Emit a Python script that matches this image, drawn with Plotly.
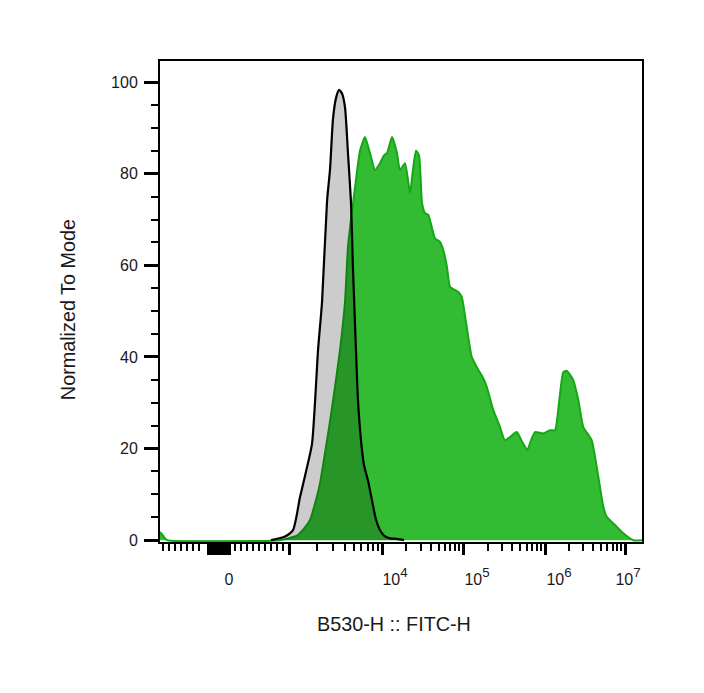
import numpy as np
import plotly.graph_objects as go

# ---------------- data (fluorescence intensity, % of mode) ----------------
control_x = [700, 933, 1104, 1313, 1524, 1767, 2052, 2265, 2564, 2762, 2973, 3200,
             3451, 3715, 4000, 4305, 4641, 4877, 5250, 5516, 5943, 6400, 7068, 7800,
             8610, 9500, 10590, 12550, 15300, 18700]
control_y = [0, 0.8, 2.2, 9.4, 15.0, 21.0, 41.5, 52.0, 74.0, 81.0, 92.0, 96.5,
             98.3, 97.5, 94.5, 84.5, 73.6, 59.0, 41.5, 30.6, 21.8, 16.4, 13.0, 8.7,
             4.5, 2.2, 1.0, 0.4, 0.3, 0]

sample_x = [-1150, -1100, -1033, 850, 1025, 1219, 1449, 1683, 1905, 2153, 2437, 2762,
            3126, 3533, 4000, 4305, 4641, 5126, 5797, 6562, 7430, 8414, 9507, 10580,
            11530, 13290, 15300, 16680, 19230, 22170, 24150, 26300, 28650, 31190, 33970,
            37300, 45110, 51990, 57140, 63430, 69160, 87500, 96400, 110900, 127600,
            146900, 177000, 194600, 234400, 282500, 325100, 451600, 524800, 608700,
            674500, 755100, 953600, 1155000, 1334000, 1496000, 1693000, 1868000,
            2259000, 2609000, 3011000, 3836000, 4429000, 5357000, 5907000, 7499000,
            9520000, 12700000, 16300000]
sample_y = [1.8, 1.0, 0, 0, 0.5, 1.0, 2.5, 4.4, 8.0, 12.4, 19.0, 26.0,
            33.5, 41.5, 52.0, 64.0, 70.0, 77.0, 85.0, 88.0, 84.5, 80.8, 82.3, 84.0,
            84.5, 88.0, 84.5, 80.8, 82.3, 75.8, 81.0, 85.0, 84.0, 73.6, 71.4,
            71.0, 65.9, 65.1, 63.3, 59.6, 55.3, 54.2, 53.1, 46.6, 40.0,
            37.8, 35.3, 33.5, 28.4, 24.7, 21.8, 23.6, 21.5, 19.7,
            21.8, 23.6, 23.3, 24.0, 24.0, 30.0, 36.7, 37.0,
            34.9, 30.6, 24.7, 21.8, 16.0, 7.3, 5.1, 3.3,
            1.5, 0.0, 0]

y_ticks = [0, 20, 40, 60, 80, 100]
x_label_vals = [0, 1e4, 1e5, 1e6, 1e7]
x_label_exp = [None, "4", "5", "6", "7"]
x_decades = [3, 4, 5, 6, 7]

# ---------------- biexponential-like display scale ----------------
SCALE_ZERO = 229.0
SCALE_LIN = 0.06
SCALE_DEC_POS = [289.0, 382.0, 463.0, 545.0, 625.0]


def scale(v):
    v = np.asarray(v, dtype=float)
    out = SCALE_ZERO + SCALE_LIN * v
    big = v > 1000
    lg = np.log10(np.where(big, v, 1000.0))
    logpos = np.interp(lg, x_decades, SCALE_DEC_POS)
    logpos = np.where(lg > 7, SCALE_DEC_POS[-1] + (lg - 7) * 80.0, logpos)
    return np.where(big, logpos, out)


# label text; decade labels sit slightly right of their tick (last one kept inside)
label_nudge = [0, 13, 14, 14, 3]
label_pos = [float(scale(v)) + n for v, n in zip(x_label_vals, label_nudge)]
label_text = ["0" if e is None else
              "10<span style='font-size:19px'><sup>%s</sup></span>" % e for e in x_label_exp]

# long ticks: dense cluster around zero + decades
long_ticks = list(np.arange(-350, 17, 16.0)) + [10.0 ** d for d in x_decades]

minor_vals = [100 * k for k in range(1, 10)] + [-100 * k for k in range(5, 12)]
for d in range(3, 7):
    for k in range(2, 10):
        minor_vals.append(k * 10.0 ** d)

x_lo, x_hi = -1150, 1.63e7
xr = [float(scale(x_lo)), float(scale(x_hi))]

fig = go.Figure()
fig.add_trace(go.Scatter(
    x=scale(sample_x), y=sample_y, mode="lines", fill="tozeroy",
    fillcolor="#33bb33", line=dict(color="#14a814", width=2, shape="spline", smoothing=0.5),
    hoverinfo="skip", showlegend=False))
fig.add_trace(go.Scatter(
    x=scale(control_x), y=control_y, mode="lines", fill="tozeroy",
    fillcolor="rgba(0,0,0,0.2)", line=dict(color="#000000", width=2.2, shape="spline", smoothing=0.6),
    hoverinfo="skip", showlegend=False))
# carrier for the secondary tick axis (no visible marks)
fig.add_trace(go.Scatter(x=xr, y=[None, None], xaxis="x2", mode="lines",
                         hoverinfo="skip", showlegend=False))

font_family = "Liberation Sans, Arial, sans-serif"
tick_font = dict(size=16, family=font_family, color="#1a1a1a")
title_font = dict(size=19.8, family=font_family, color="#1a1a1a")

fig.update_layout(
    width=704, height=693,
    margin=dict(l=152, r=70, t=53, b=159),
    paper_bgcolor="white", plot_bgcolor="white",
    font=dict(family=font_family, color="#1a1a1a"),
    xaxis=dict(
        range=xr,
        showgrid=False, zeroline=False,
        showline=True, linecolor="black", linewidth=2, mirror=True,
        tickmode="array", tickvals=label_pos, ticktext=label_text,
        ticks="outside", ticklen=12, tickwidth=0.01, tickcolor="rgba(0,0,0,0)",
        tickfont=tick_font,
        ticklabelstandoff=10,
        minor=dict(tickmode="array", tickvals=list(scale(minor_vals)), ticks="outside",
                   ticklen=7, tickwidth=2, tickcolor="black", showgrid=False),
    ),
    xaxis2=dict(
        range=xr, overlaying="x", side="bottom", anchor="y",
        showgrid=False, zeroline=False, showline=False,
        tickmode="array", tickvals=list(scale(long_ticks)),
        ticks="outside", ticklen=12, tickwidth=2.5, tickcolor="black",
        showticklabels=False,
    ),
    yaxis=dict(
        range=[-0.4, 104.6],
        showgrid=False, zeroline=False,
        showline=True, linecolor="black", linewidth=2, mirror=True,
        tickmode="array", tickvals=y_ticks, ticktext=[str(t) for t in y_ticks],
        ticks="outside", ticklen=14, tickwidth=2.5, tickcolor="black",
        tickfont=tick_font,
        ticklabelstandoff=3,
        minor=dict(dtick=5, tick0=0, ticks="outside", ticklen=7, tickwidth=2,
                   tickcolor="black", showgrid=False),
    ),
    annotations=[
        dict(text="B530-H :: FITC-H", xref="paper", yref="paper", x=0.4855, y=-0.170,
             xanchor="center", yanchor="middle", showarrow=False, font=title_font),
        dict(text="Normalized To Mode", xref="paper", yref="paper", x=-0.191, y=0.484,
             xanchor="center", yanchor="middle", showarrow=False, textangle=-90,
             font=title_font),
    ],
)

fig.write_html("out.html")
